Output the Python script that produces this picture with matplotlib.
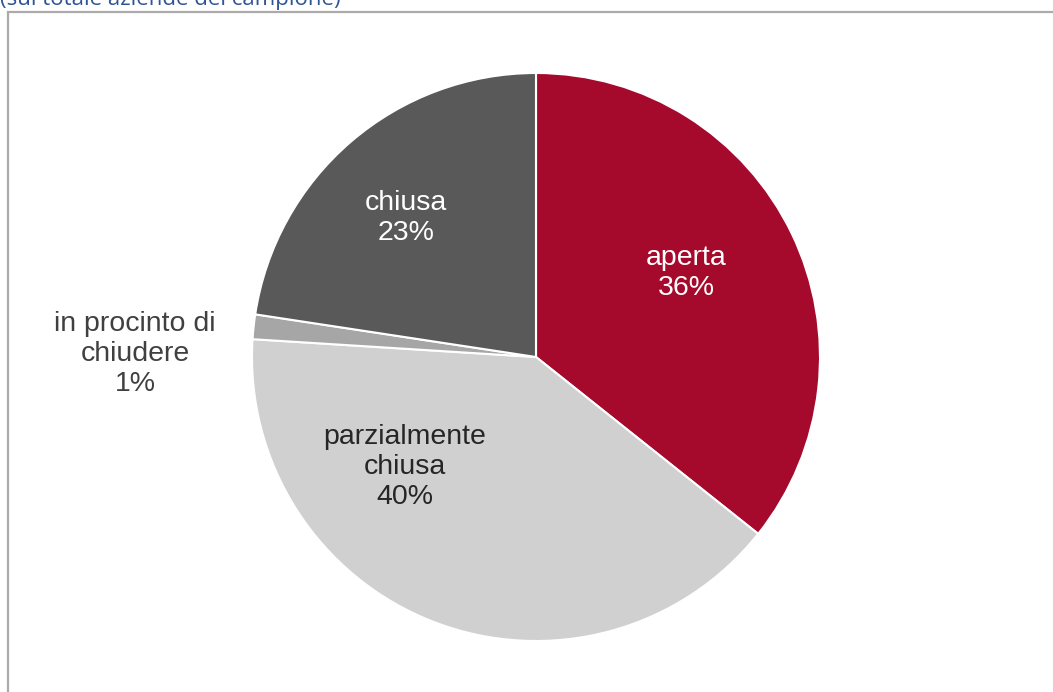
import matplotlib.pyplot as plt
from matplotlib.patches import Rectangle

# dati (quota % aziende)
categorie = ["aperta", "parzialmente\nchiusa", "in procinto di\nchiudere", "chiusa"]
valori = [35.7, 40.3, 1.4, 22.6]
etichette_pct = ["36%", "40%", "1%", "23%"]
colori = ["#A50A2C", "#D0D0D0", "#A6A6A6", "#595959"]
colori_testo = ["white", "#262626", "#404040", "white"]

W, H = 1053, 692
fig = plt.figure(figsize=(W / 100, H / 100), dpi=100)
ax = fig.add_axes([0, 0, 1, 1])

# cornice grigia (tagliata a destra e in basso)
ax.add_patch(Rectangle((8, -20), 1100, H - 12 + 20, fill=False,
                       edgecolor="#ABABAB", linewidth=1.6))

# sottotitolo tagliato in alto (come nell'originale)
ax.text(0, H - 5, "(sul totale aziende del campione)", color="#2F5496",
        fontsize=16, family="Open Sans", va="baseline", ha="left")

cx, cy, r = 536, H - 357, 284
wedges, _ = ax.pie(valori, startangle=90, counterclock=False, colors=colori,
                   center=(cx, cy), radius=r, frame=True,
                   wedgeprops=dict(edgecolor="white", linewidth=1.5))
ax.set_xlim(0, W)
ax.set_ylim(0, H)
ax.set_aspect("equal")
ax.axis("off")

# posizioni delle etichette (pixel dal centro)
offset = [(150, 84), (-131, -110), (-401, 3), (-130, 139)]
for cat, pct, col, (dx, dy) in zip(categorie, etichette_pct, colori_testo, offset):
    ax.text(cx + dx, cy + dy, f"{cat}\n{pct}", ha="center", va="center",
            color=col, fontsize=20.5, family="Liberation Sans", linespacing=1.22)

fig.savefig("out.png", dpi=100)
